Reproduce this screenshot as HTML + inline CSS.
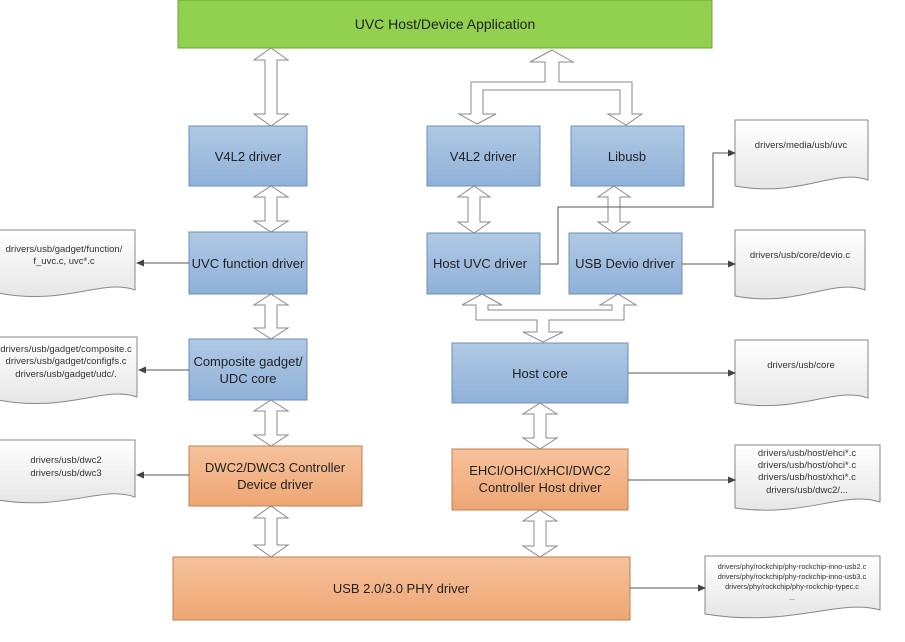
<!DOCTYPE html>
<html><head><meta charset="utf-8"><style>html,body{margin:0;padding:0;background:#fff}svg{display:block}</style></head><body>
<svg width="905" height="642" viewBox="0 0 905 642" xmlns="http://www.w3.org/2000/svg" font-family="Liberation Sans, sans-serif">
<defs>
<linearGradient id="b" x1="0" y1="0" x2="0" y2="1"><stop offset="0" stop-color="#b0c9e4"/><stop offset="1" stop-color="#8fb1d8"/></linearGradient>
<linearGradient id="o" x1="0" y1="0" x2="0" y2="1"><stop offset="0" stop-color="#f7c29c"/><stop offset="1" stop-color="#eda673"/></linearGradient>
<linearGradient id="d" x1="0" y1="0" x2="0" y2="1"><stop offset="0" stop-color="#ffffff"/><stop offset="1" stop-color="#e6e6e6"/></linearGradient>
<marker id="a" markerWidth="8" markerHeight="8" refX="7" refY="4" orient="auto" markerUnits="userSpaceOnUse"><path d="M0,0.5 L8,4 L0,7.5 Z" fill="#444"/></marker>
</defs>
<rect x="178" y="0" width="534" height="48" fill="#92d050" stroke="#6fa23a"/>
<text x="445" y="29" font-size="14" text-anchor="middle" fill="#222">UVC Host/Device Application</text>

<g stroke="#6e8fb6" stroke-width="1">
<rect x="189" y="126" width="118" height="60" fill="url(#b)"/>
<rect x="189" y="232" width="118" height="62" fill="url(#b)"/>
<rect x="189" y="339" width="118" height="61" fill="url(#b)"/>
<rect x="427" y="126" width="113" height="60" fill="url(#b)"/>
<rect x="571" y="126" width="113" height="60" fill="url(#b)"/>
<rect x="427" y="233" width="113" height="61" fill="url(#b)"/>
<rect x="569" y="233" width="113" height="61" fill="url(#b)"/>
<rect x="452" y="343" width="176" height="60" fill="url(#b)"/>
</g>
<g stroke="#c08050" stroke-width="1">
<rect x="189" y="446" width="173" height="60" fill="url(#o)"/>
<rect x="452" y="449" width="176" height="61" fill="url(#o)"/>
<rect x="173" y="557" width="457" height="63" fill="url(#o)"/>
</g>
<g font-size="13" fill="#222" text-anchor="middle">
<text x="248" y="161">V4L2 driver</text>
<text x="248" y="268">UVC function driver</text>
<text x="248" y="366">Composite gadget/</text>
<text x="248" y="383">UDC core</text>
<text x="275" y="472">DWC2/DWC3 Controller</text>
<text x="275" y="489">Device driver</text>
<text x="483" y="161">V4L2 driver</text>
<text x="627" y="161">Libusb</text>
<text x="480" y="268">Host UVC driver</text>
<text x="625" y="268">USB Devio driver</text>
<text x="540" y="378">Host core</text>
<text x="540" y="475">EHCI/OHCI/xHCI/DWC2</text>
<text x="540" y="492">Controller Host driver</text>
<text x="401" y="593">USB 2.0/3.0 PHY driver</text>
</g>

<g fill="#fff" stroke="#8a8a8a" stroke-width="1">
<polygon points="271,48 288,60 277,60 277,114 288,114 271,126 254,114 265,114 265,60 254,60"/>
<polygon points="271,186 288,197 277,197 277,221 288,221 271,232 254,221 265,221 265,197 254,197"/>
<polygon points="271,294 288,305 277,305 277,328 288,328 271,339 254,328 265,328 265,305 254,305"/>
<polygon points="271,400 288,411 277,411 277,435 288,435 271,446 254,435 265,435 265,411 254,411"/>
<polygon points="271,506 288,518 277,518 277,545 288,545 271,557 254,545 265,545 265,518 254,518"/>
<polygon points="474,186 490,197 480,197 480,222 490,222 474,233 458,222 468,222 468,197 458,197"/>
<polygon points="614,186 630,197 620,197 620,222 630,222 614,233 598,222 608,222 608,197 598,197"/>
<polygon points="540,403 557,414 546,414 546,438 557,438 540,449 523,438 534,438 534,414 523,414"/>
<polygon points="540,510 557,521 546,521 546,546 557,546 540,557 523,546 534,546 534,521 523,521"/>
<polygon points="552,50 573,62 559,62 559,82 632,82 632,114 642,114 626,125 608,114 620,114 620,90 483,90 483,114 496,114 477,124 459,114 471,114 471,82 545,82 545,62 530,62"/>
<polygon points="482,294 502,305 488,305 488,310 612,310 612,305 600,305 618,294 636,305 624,305 624,320 549,320 549,332 563,332 543,342 523,332 537,332 537,320 476,320 476,305 462,305"/>
</g>

<g fill="url(#d)" stroke="#888" stroke-width="1">
<path d="M735,120 H868 V180 C835,168 800,198 735,186 Z"/>
<path d="M735,230 H865 V290 C832,278 797,308 735,296 Z"/>
<path d="M735,340 H868 V398 C835,386 800,414 735,403 Z"/>
<path d="M735,445 H880 V502 C845,490 805,518 735,508 Z"/>
<path d="M705,556 H880 V610 C840,598 790,628 705,614 Z"/>
<path d="M-2,230 H135 V290 C102,278 67,306 -2,293 Z"/>
<path d="M-2,337 H137 V397 C104,385 69,413 -2,400 Z"/>
<path d="M-2,440 H135 V497 C102,485 67,511 -2,500 Z"/>
</g>
<g font-size="9.5" fill="#333" text-anchor="middle">
<text x="801" y="148">drivers/media/usb/uvc</text>
<text x="800" y="258">drivers/usb/core/devio.c</text>
<text x="801" y="368">drivers/usb/core</text>
<text x="807" y="456">drivers/usb/host/ehci*.c</text>
<text x="807" y="468">drivers/usb/host/ohci*.c</text>
<text x="807" y="480">drivers/usb/host/xhci*.c</text>
<text x="807" y="493">drivers/usb/dwc2/...</text>
<text x="64" y="252">drivers/usb/gadget/function/</text>
<text x="64" y="264">f_uvc.c, uvc*.c</text>
<text x="66" y="352">drivers/usb/gadget/composite.c</text>
<text x="66" y="364">drivers/usb/gadget/configfs.c</text>
<text x="66" y="377">drivers/usb/gadget/udc/.</text>
<text x="66" y="463">drivers/usb/dwc2</text>
<text x="66" y="476">drivers/usb/dwc3</text>
</g>
<g font-size="7.3" fill="#333" text-anchor="middle">
<text x="792" y="569">drivers/phy/rockchip/phy-rockchip-inno-usb2.c</text>
<text x="792" y="579">drivers/phy/rockchip/phy-rockchip-inno-usb3.c</text>
<text x="792" y="589">drivers/phy/rockchip/phy-rockchip-typec.c</text>
<text x="792" y="600">...</text>
</g>

<g stroke="#555" stroke-width="1" fill="none" marker-end="url(#a)">
<line x1="189" y1="263" x2="137" y2="263"/>
<line x1="189" y1="370" x2="139" y2="370"/>
<line x1="189" y1="475" x2="137" y2="475"/>
<polyline points="540,264 558,264 558,207 713,207 713,153 735,153"/>
<line x1="682" y1="264" x2="735" y2="264"/>
<line x1="628" y1="373" x2="735" y2="373"/>
<line x1="628" y1="480" x2="735" y2="480"/>
<line x1="630" y1="588" x2="705" y2="588"/>
</g>
</svg>
</body></html>
